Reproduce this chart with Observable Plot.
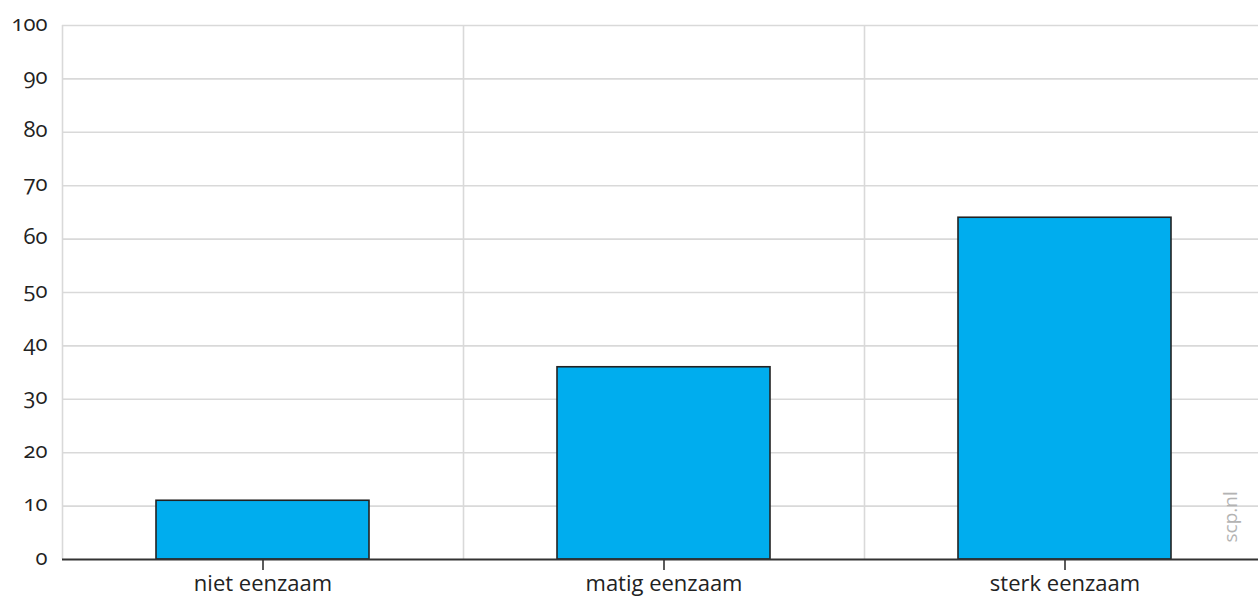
<!DOCTYPE html>
<html>
<head>
<meta charset="utf-8">
<script src="https://cdn.jsdelivr.net/npm/d3@7"></script>
<script src="https://cdn.jsdelivr.net/npm/@observablehq/plot@0.6"></script>
<style>
  html, body { margin: 0; padding: 0; background: #fff; overflow: hidden; }
  svg, svg text { font-family: "Open Sans", Lato, sans-serif; font-variant-numeric: oldstyle-nums; font-feature-settings: "onum" 1; }
</style>
</head>
<body>
<div id="chart"></div>
<script>
const categories = ["niet eenzaam", "matig eenzaam", "sterk eenzaam"];
const values = [11, 36, 64];
const yTicks = [0, 10, 20, 30, 40, 50, 60, 70, 80, 90, 100];
const source = "scp.nl";

const data = categories.map((c, i) => ({category: c, value: values[i]}));
const left = 62, right = 1265;
const step = (right - left) / categories.length;

const chart = Plot.plot({
  width: 1258,
  height: 601,
  marginTop: 25,
  marginBottom: 42,
  marginLeft: left,
  marginRight: 0,
  style: {fontSize: "22px", color: "#222", background: "#fff"},
  x: {domain: categories, range: [left, right], paddingInner: 0.47, paddingOuter: 0.235, label: null},
  y: {domain: [0, 100], label: null},
  marks: [
    Plot.ruleY(yTicks.slice(1), {y: d => d, stroke: "#d9d9d9", strokeWidth: 1.6}),
    Plot.ruleX(categories, {x: d => d, dx: -step / 2, y1: 0, y2: 100, stroke: "#d9d9d9", strokeWidth: 1.6}),
    Plot.barY(data, {x: "category", y: "value", fill: "#00adee", stroke: "#222", strokeWidth: 1.6}),
    Plot.ruleY([0], {stroke: "#333", strokeWidth: 2}),
    Plot.axisY({ticks: yTicks, tickSize: 0, tickPadding: 15, fontSize: 22, fill: "#222", dy: -2}),
    Plot.axisX({tickSize: 11, tickPadding: 5, fontSize: 22, fill: "#222", stroke: "#333", strokeWidth: 1.6}),
    Plot.text([source], {text: d => d, frameAnchor: "bottom-right", rotate: -90, textAnchor: "start", dx: -22, dy: -17, fill: "#b3b3b3", fontSize: 19})
  ]
});
document.getElementById("chart").appendChild(chart);
</script>
</body>
</html>
